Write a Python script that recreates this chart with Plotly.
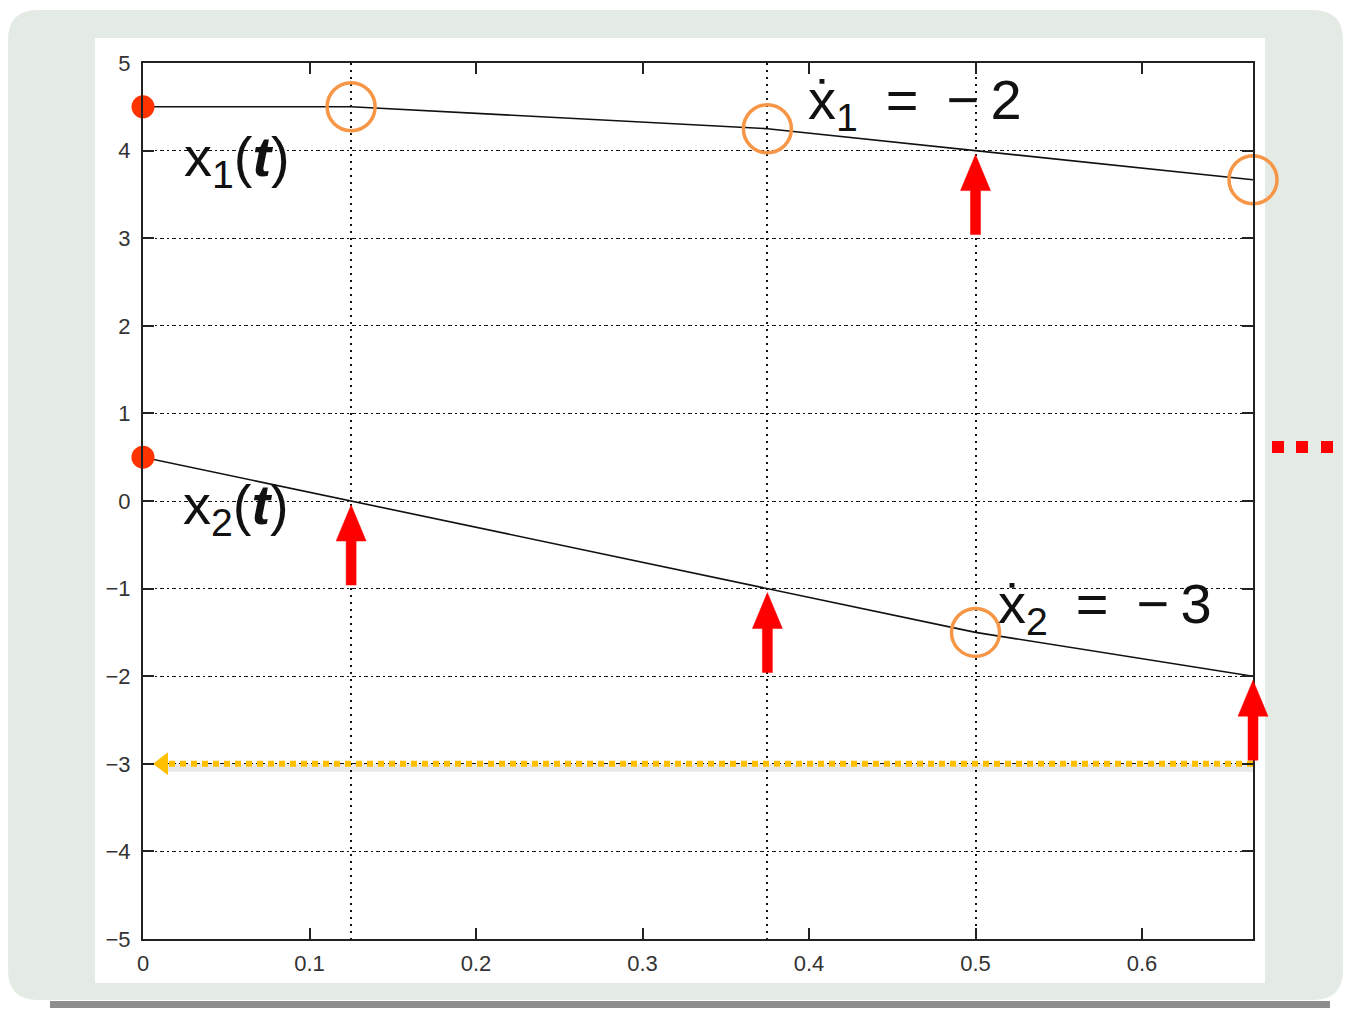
import plotly.graph_objects as go

# ---- data -------------------------------------------------------------
t_events = [0.0, 0.125, 0.375, 0.5, 2 / 3]      # event times
x1_vals = [4.5, 4.5, 4.25, 4.0, 11 / 3]         # x1(t) at the events
x2_vals = [0.5, 0.0, -1.0, -1.5, -2.0]          # x2(t) at the events

grid_times = [0.125, 0.375, 0.5]                # vertical event gridlines

circle_t = [0.125, 0.375, 2 / 3, 0.5]           # highlighted points
circle_v = [4.5, 4.25, 11 / 3, -1.5]

arrow_t = [0.5, 0.125, 0.375, 2 / 3]            # red update arrows
arrow_v = [4.0, 0.0, -1.0, -2.0]

level_t = [2 / 3, 0.012]                        # yellow level line
level_v = -3.0

x_ticks = [0, 0.1, 0.2, 0.3, 0.4, 0.5, 0.6]
y_ticks = [-5, -4, -3, -2, -1, 0, 1, 2, 3, 4, 5]

W, H = 1346, 1009
X_RANGE = [0, 2 / 3]
Y_RANGE = [-5, 5]
x_dom = [143 / W, 1253 / W]
y_dom = [1 - 939 / H, 1 - 63 / H]

# pixel -> data unit factors, used to size the arrow glyphs
ux = (X_RANGE[1] - X_RANGE[0]) / ((x_dom[1] - x_dom[0]) * W)
uy = (Y_RANGE[1] - Y_RANGE[0]) / ((y_dom[1] - y_dom[0]) * H)
# wider overlay axis so arrows at the right border are not clipped
x3_right = 1300
x3_dom = [x_dom[0], x3_right / W]
X3_RANGE = [0, (x3_right - 143) * ux]


def px(x):
    return x / W


def py(y):
    return 1 - y / H


fig = go.Figure()

# trajectories
fig.add_trace(go.Scatter(x=t_events, y=x1_vals, mode="lines",
                         line=dict(color="#111111", width=1.6)))
fig.add_trace(go.Scatter(x=t_events, y=x2_vals, mode="lines",
                         line=dict(color="#111111", width=1.6)))

# yellow dotted level line with its soft shadow and left arrow head
fig.add_trace(go.Scatter(x=level_t, y=[level_v - 4 * uy] * 2, mode="lines",
                         line=dict(color="rgba(0,0,0,0.09)", width=8),
                         hoverinfo="skip"))
fig.add_trace(go.Scatter(x=level_t, y=[level_v] * 2, mode="lines",
                         line=dict(color="#ffc000", width=6, dash="6px,5px")))
fig.add_trace(go.Scatter(x=[level_t[-1]], y=[level_v], mode="markers",
                         marker=dict(symbol="triangle-left", size=20, color="#ffc000"),
                         cliponaxis=False))

# red upward arrows, each pointing at a state value
ax_pts, ay_pts = [], []
gap, head_len, total_len = 4, 36, 80        # pixels
shaft_hw, head_hw = 5, 15                   # half widths in pixels
for t, v in zip(arrow_t, arrow_v):
    tip = v - gap * uy
    base = tip - head_len * uy
    tail = tip - total_len * uy
    ax_pts += [t, t + head_hw * ux, t + shaft_hw * ux, t + shaft_hw * ux,
               t - shaft_hw * ux, t - shaft_hw * ux, t - head_hw * ux, t, None]
    ay_pts += [tip, base, base, tail, tail, base, base, tip, None]
fig.add_trace(go.Scatter(x=ax_pts, y=ay_pts, mode="lines", fill="toself",
                         fillcolor="#ff0000", line=dict(color="#ff0000", width=0.5),
                         xaxis="x3", yaxis="y3"))

# initial values
fig.add_trace(go.Scatter(x=[t_events[0], t_events[0]], y=[x1_vals[0], x2_vals[0]],
                         mode="markers", marker=dict(size=23, color="#ff3300"),
                         cliponaxis=False))

# highlighted circles
fig.add_trace(go.Scatter(x=circle_t, y=circle_v, mode="markers",
                         marker=dict(symbol="circle-open", size=48, color="#f79646",
                                     line=dict(color="#f79646", width=3.5)),
                         cliponaxis=False))

label_font = dict(family="Liberation Sans, DejaVu Sans", size=56, color="#111111")
annotations = [
    dict(x=0.0565, y=3.89, xref="x", yref="y", showarrow=False, font=label_font,
         text="x<sub>1</sub>(<b><i>t</i></b>)"),
    dict(x=0.056, y=-0.08, xref="x", yref="y", showarrow=False, font=label_font,
         text="x<sub>2</sub>(<b><i>t</i></b>)"),
    dict(x=0.4637, y=4.54, xref="x", yref="y", showarrow=False, font=label_font,
         text="\u1e8b<sub>1</sub>\u2002=\u2002\u2212\u20092"),
    dict(x=0.578, y=-1.22, xref="x", yref="y", showarrow=False, font=label_font,
         text="\u1e8b<sub>2</sub>\u2002=\u2002\u2212\u20093"),
]

shapes = []
# slide panel with rounded corners and a shadow under it
L, T, R, B, r = 8, 10, 1343, 1000, 30
path = (f"M{px(L + r)},{py(T)} L{px(R - r)},{py(T)} Q{px(R)},{py(T)} {px(R)},{py(T + r)} "
        f"L{px(R)},{py(B - r)} Q{px(R)},{py(B)} {px(R - r)},{py(B)} "
        f"L{px(L + r)},{py(B)} Q{px(L)},{py(B)} {px(L)},{py(B - r)} "
        f"L{px(L)},{py(T + r)} Q{px(L)},{py(T)} {px(L + r)},{py(T)} Z")
shapes.append(dict(type="rect", xref="paper", yref="paper", x0=px(50), x1=px(1330),
                   y0=py(1008), y1=py(1001), fillcolor="#8e8e8e", line_width=0, layer="below"))
shapes.append(dict(type="path", xref="paper", yref="paper", path=path,
                   fillcolor="#e4ebe4", line_width=0, layer="below"))
# white figure card
shapes.append(dict(type="rect", xref="paper", yref="paper", x0=px(95), x1=px(1265),
                   y0=py(983), y1=py(38), fillcolor="#ffffff", line_width=0, layer="below"))
# red continuation dots
for cx in [1278, 1302, 1327]:
    shapes.append(dict(type="rect", xref="paper", yref="paper", x0=px(cx - 6), x1=px(cx + 6),
                       y0=py(453), y1=py(441), fillcolor="#ff0000", line_width=0))

tick_font = dict(family="Liberation Sans, Arial", size=22, color="#333333")

fig.update_layout(
    width=W, height=H, autosize=False,
    margin=dict(l=0, r=0, t=0, b=0, autoexpand=False),
    paper_bgcolor="#ffffff", plot_bgcolor="rgba(0,0,0,0)", showlegend=False,
    annotations=annotations, shapes=shapes,
    xaxis=dict(domain=x_dom, range=X_RANGE, tickvals=x_ticks,
               ticktext=[f"{v:g}" for v in x_ticks], automargin=False,
               ticks="inside", ticklen=11, tickwidth=1.5, tickcolor="#222222",
               showline=True, linecolor="#222222", linewidth=2, mirror="ticks",
               showgrid=False, zeroline=False, tickfont=tick_font, ticklabelstandoff=4),
    xaxis2=dict(domain=x_dom, range=X_RANGE, overlaying="x", tickvals=grid_times,
                showticklabels=False, ticks="", showline=False, zeroline=False,
                automargin=False,
                showgrid=True, gridcolor="#111111", gridwidth=1.5, griddash="2px,5px"),
    xaxis3=dict(domain=x3_dom, range=X3_RANGE, anchor="y3", visible=False,
                automargin=False),
    yaxis3=dict(domain=y_dom, range=Y_RANGE, anchor="x3", visible=False,
                automargin=False),
    yaxis=dict(domain=y_dom, range=Y_RANGE, tickvals=y_ticks, automargin=False,
               ticks="inside", ticklen=11, tickwidth=1.5, tickcolor="#222222",
               showline=True, linecolor="#222222", linewidth=2, mirror="ticks",
               showgrid=True, gridcolor="#111111", gridwidth=1, griddash="2px,3px,4px,3px",
               zeroline=False, tickfont=tick_font, ticklabelstandoff=6),
)

# invisible trace to activate the event-grid axis
fig.add_trace(go.Scatter(x=[0], y=[0], xaxis="x2", yaxis="y", mode="markers",
                         marker=dict(opacity=0), hoverinfo="skip"))

fig.write_html("out.html")
